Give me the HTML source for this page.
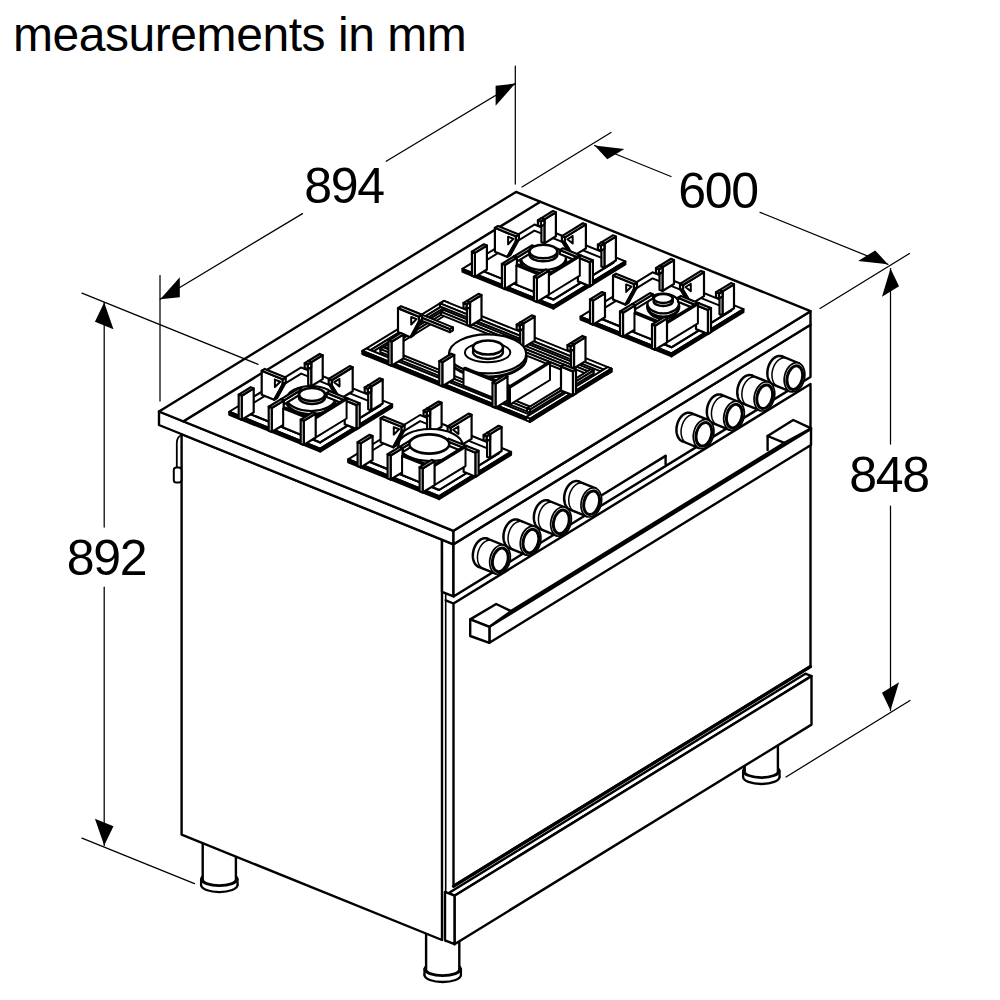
<!DOCTYPE html>
<html><head><meta charset="utf-8"><style>
html,body{margin:0;padding:0;background:#fff;width:1000px;height:1000px;overflow:hidden}
svg{position:absolute;left:0;top:0}
text{font-family:"Liberation Sans",sans-serif;fill:#000}
</style></head><body>
<svg width="1000" height="1000" viewBox="0 0 1000 1000">
<rect width="1000" height="1000" fill="#fff"/>
<g stroke="#000" stroke-linejoin="round" stroke-linecap="round" fill="none">
<ellipse cx="219.3" cy="885.04" rx="18.2" ry="7" fill="#fff" stroke-width="2.3"/>
<rect x="201.1" y="879.04" width="36.4" height="6" fill="#fff" stroke="none"/>
<line x1="201.1" y1="879.04" x2="201.1" y2="885.04" stroke-width="2.3"/>
<line x1="237.5" y1="879.04" x2="237.5" y2="885.04" stroke-width="2.3"/>
<ellipse cx="219.3" cy="879.04" rx="18.2" ry="7" fill="#fff" stroke-width="2.0"/>
<rect x="202.7" y="832.54" width="33.2" height="46.5" fill="#fff" stroke="none"/>
<line x1="202.7" y1="832.54" x2="202.7" y2="879.04" stroke-width="2.4"/>
<line x1="235.9" y1="832.54" x2="235.9" y2="879.04" stroke-width="2.4"/>
<path d="M202.7,879.04 A16.6,6.2 0 0 0 235.9,879.04" fill="none" stroke-width="1.8"/>
<ellipse cx="442.7" cy="975.01" rx="18.2" ry="7" fill="#fff" stroke-width="2.3"/>
<rect x="424.5" y="969.01" width="36.4" height="6" fill="#fff" stroke="none"/>
<line x1="424.5" y1="969.01" x2="424.5" y2="975.01" stroke-width="2.3"/>
<line x1="460.9" y1="969.01" x2="460.9" y2="975.01" stroke-width="2.3"/>
<ellipse cx="442.7" cy="969.01" rx="18.2" ry="7" fill="#fff" stroke-width="2.0"/>
<rect x="426.1" y="922.51" width="33.2" height="46.5" fill="#fff" stroke="none"/>
<line x1="426.1" y1="922.51" x2="426.1" y2="969.01" stroke-width="2.4"/>
<line x1="459.3" y1="922.51" x2="459.3" y2="969.01" stroke-width="2.4"/>
<path d="M426.1,969.01 A16.6,6.2 0 0 0 459.3,969.01" fill="none" stroke-width="1.8"/>
<ellipse cx="761.3" cy="776.98" rx="18.2" ry="7" fill="#fff" stroke-width="2.3"/>
<rect x="743.1" y="770.98" width="36.4" height="6" fill="#fff" stroke="none"/>
<line x1="743.1" y1="770.98" x2="743.1" y2="776.98" stroke-width="2.3"/>
<line x1="779.5" y1="770.98" x2="779.5" y2="776.98" stroke-width="2.3"/>
<ellipse cx="761.3" cy="770.98" rx="18.2" ry="7" fill="#fff" stroke-width="2.0"/>
<rect x="744.7" y="724.48" width="33.2" height="46.5" fill="#fff" stroke="none"/>
<line x1="744.7" y1="724.48" x2="744.7" y2="770.98" stroke-width="2.4"/>
<line x1="777.9" y1="724.48" x2="777.9" y2="770.98" stroke-width="2.4"/>
<path d="M744.7,770.98 A16.6,6.2 0 0 0 777.9,770.98" fill="none" stroke-width="1.8"/>
<polygon points="181.6,434.15 442,539.62 442,940.01 181.6,834.55" stroke-width="2.4" fill="#fff" />
<polygon points="442,539.62 453.5,544.27 453.5,596.47 442,591.82" stroke-width="2.4" fill="#fff" />
<line x1="445.7" y1="593.5" x2="445.7" y2="941.5" stroke-width="1.6"/>
<line x1="445.7" y1="600.3" x2="453.5" y2="603.5" stroke-width="2.4"/>
<polygon points="453.5,544.27 810.5,324.72 810.5,376.92 453.5,596.47" stroke-width="2.4" fill="#fff" />
<polygon points="453.5,603.47 810.5,383.92 810.5,666.12 453.5,885.67" stroke-width="2.4" fill="#fff" />
<line x1="453.5" y1="886.27" x2="810.5" y2="666.72" stroke-width="3.2"/>
<polygon points="448.4,893.21 805.4,673.65 811.5,676.12 454.5,895.68" stroke-width="2.4" fill="#fff" />
<polygon points="454.5,895.68 811.5,676.12 811.5,724.62 454.5,944.18" stroke-width="2.4" fill="#fff" />
<polygon points="445,891.83 454.5,895.68 454.5,944.18 445,940.33" stroke-width="2.4" fill="#fff" />
<path d="M181.6,435 Q176.8,437 176.8,443 L176.8,468" fill="none" stroke-width="1.8"/>
<rect x="173.8" y="467.5" width="7.6" height="15" rx="2.5" fill="#fff" stroke-width="2"/>
<polygon points="159,411.5 453.5,530.77 453.5,544.27 159,425" stroke-width="2.4" fill="#fff" />
<polygon points="453.5,530.77 810.5,311.22 810.5,324.72 453.5,544.27" stroke-width="2.4" fill="#fff" />
<polygon points="159,411.5 516,191.94 810.5,311.22 453.5,530.77" stroke-width="2.4" fill="#fff" />
<line x1="183.4" y1="421.38" x2="540.4" y2="201.83" stroke-width="2.4"/>
<polygon points="553.4,305.68 625.4,261.4 534.4,224.55 462.4,268.83" fill="#fff" stroke-width="2.0"/>
<polygon points="625.4,264.4 553.4,308.68 553.4,305.68 625.4,261.4" fill="#000" stroke-width="2.0"/>
<polygon points="553.4,308.68 462.4,271.83 462.4,268.83 553.4,305.68" fill="#000" stroke-width="2.0"/>
<polygon points="553.4,299.55 613.4,262.65 534.4,230.66 474.4,267.56" fill="#fff" stroke-width="2.0"/>
<polygon points="613.4,262.66 553.4,299.56 553.4,299.55 613.4,262.65" fill="#fff" stroke-width="2.0"/>
<polygon points="553.4,299.56 474.4,267.57 474.4,267.56 553.4,299.55" fill="#fff" stroke-width="2.0"/>
<polygon points="555.9,212.26 544.4,219.33 544.4,243.33 555.9,236.26" fill="#fff" stroke-width="2.2"/>
<polygon points="541.4,242.11 541.4,218.11 544.4,219.33 544.4,243.33" fill="#fff" stroke-width="2.2"/>
<polygon points="541.4,218.11 552.9,211.04 555.9,212.26 544.4,219.33" fill="#fff" stroke-width="2.2"/>
<polygon points="544.4,219.33 540.9,221.48 540.9,226.48 544.4,224.33" fill="#fff" stroke-width="2.2"/>
<polygon points="537.9,225.27 537.9,220.27 540.9,221.48 540.9,226.48" fill="#fff" stroke-width="2.2"/>
<polygon points="537.9,220.27 541.4,218.11 544.4,219.33 540.9,221.48" fill="#fff" stroke-width="2.2"/>
<polygon points="494.9,227.84 515.9,236.35 515.9,241.35 507.4,256.9 494.9,251.84" fill="#fff" stroke-width="2.2"/>
<polygon points="510.4,255.06 518.9,239.5 515.9,241.35 507.4,256.9" fill="#fff" stroke-width="2.2"/>
<polygon points="518.9,239.5 518.9,234.5 515.9,236.35 515.9,241.35" fill="#fff" stroke-width="2.2"/>
<polygon points="518.9,234.5 497.9,226 494.9,227.84 515.9,236.35" fill="#fff" stroke-width="2.2"/>
<polyline points="508.1,236.69 513.4,238.83 508.1,244.19 508.1,236.69" fill="none" stroke-width="2.0"/>
<polygon points="585.9,224.41 564.9,237.32 564.9,242.32 573.4,256.09 585.9,248.41" fill="#fff" stroke-width="2.2"/>
<polygon points="570.4,254.88 561.9,241.11 564.9,242.32 573.4,256.09" fill="#fff" stroke-width="2.2"/>
<polygon points="561.9,241.11 561.9,236.11 564.9,237.32 564.9,242.32" fill="#fff" stroke-width="2.2"/>
<polygon points="561.9,236.11 582.9,223.19 585.9,224.41 564.9,237.32" fill="#fff" stroke-width="2.2"/>
<polyline points="572.7,236.02 567.4,239.28 572.7,243.52 572.7,236.02" fill="none" stroke-width="2.0"/>
<polygon points="474.9,252.89 486.9,245.51 486.9,269.51 474.9,276.89" fill="#fff" stroke-width="2.2"/>
<polygon points="483.9,244.3 471.9,251.68 474.9,252.89 486.9,245.51" fill="#fff" stroke-width="2.2"/>
<polygon points="471.9,251.68 471.9,275.68 474.9,276.89 474.9,252.89" fill="#fff" stroke-width="2.2"/>
<ellipse cx="543.4" cy="265" rx="20.25" ry="10.12" fill="#fff" stroke-width="1.6"/>
<ellipse cx="543.4" cy="261.5" rx="22.5" ry="11.9" fill="#fff" stroke-width="3.0"/>
<ellipse cx="543.4" cy="258" rx="22.5" ry="11.9" fill="#fff" stroke-width="2.2"/>
<polygon points="615.9,236.56 604.4,243.63 604.4,267.63 615.9,260.56" fill="#fff" stroke-width="2.2"/>
<polygon points="601.4,266.41 601.4,242.41 604.4,243.63 604.4,267.63" fill="#fff" stroke-width="2.2"/>
<polygon points="601.4,242.41 612.9,235.34 615.9,236.56 604.4,243.63" fill="#fff" stroke-width="2.2"/>
<polygon points="516.9,257.66 534.9,246.59 534.9,250.59 516.9,261.66" fill="#fff" stroke-width="2.2"/>
<polygon points="531.9,245.38 513.9,256.45 516.9,257.66 534.9,246.59" fill="#fff" stroke-width="2.2"/>
<polygon points="513.9,256.45 513.9,260.45 516.9,261.66 516.9,257.66" fill="#fff" stroke-width="2.2"/>
<polygon points="604.4,243.63 600.9,245.78 600.9,250.78 604.4,248.63" fill="#fff" stroke-width="2.2"/>
<polygon points="597.9,249.57 597.9,244.57 600.9,245.78 600.9,250.78" fill="#fff" stroke-width="2.2"/>
<polygon points="597.9,244.57 601.4,242.41 604.4,243.63 600.9,245.78" fill="#fff" stroke-width="2.2"/>
<polygon points="504.9,265.04 516.9,257.66 516.9,281.66 504.9,289.04" fill="#fff" stroke-width="2.2"/>
<polygon points="513.9,256.45 501.9,263.83 504.9,265.04 516.9,257.66" fill="#fff" stroke-width="2.2"/>
<polygon points="501.9,263.83 501.9,287.83 504.9,289.04 504.9,265.04" fill="#fff" stroke-width="2.2"/>
<polygon points="577.9,257.38 559.9,250.09 559.9,254.09 577.9,261.38" fill="#fff" stroke-width="2.2"/>
<polygon points="562.9,248.24 580.9,255.53 577.9,257.38 559.9,250.09" fill="#fff" stroke-width="2.2"/>
<polygon points="580.9,255.53 580.9,259.53 577.9,261.38 577.9,257.38" fill="#fff" stroke-width="2.2"/>
<polygon points="589.9,262.24 577.9,257.38 577.9,281.38 589.9,286.24" fill="#fff" stroke-width="2.2"/>
<polygon points="580.9,255.53 592.9,260.39 589.9,262.24 577.9,257.38" fill="#fff" stroke-width="2.2"/>
<polygon points="592.9,260.39 592.9,284.39 589.9,286.24 589.9,262.24" fill="#fff" stroke-width="2.2"/>
<polygon points="545.8,277.49 579.8,256.58 578.1,255.89 544.1,276.8" fill="#fff" stroke-width="2.0"/>
<polygon points="579.8,275.58 545.8,296.49 545.8,277.49 579.8,256.58" fill="#fff" stroke-width="2.0"/>
<polygon points="545.8,296.49 544.1,295.8 544.1,276.8 545.8,277.49" fill="#fff" stroke-width="2.0"/>
<polygon points="545.8,277.49 547.5,276.44 518.1,264.53 516.4,265.58" fill="#fff" stroke-width="2.0"/>
<polygon points="547.5,295.44 545.8,296.49 545.8,277.49 547.5,276.44" fill="#fff" stroke-width="2.0"/>
<polygon points="545.8,296.49 516.4,284.58 516.4,265.58 545.8,277.49" fill="#fff" stroke-width="2.0"/>
<polygon points="536.9,278 548.9,270.62 548.9,294.62 536.9,302" fill="#fff" stroke-width="2.2"/>
<polygon points="545.9,269.41 533.9,276.79 536.9,278 548.9,270.62" fill="#fff" stroke-width="2.2"/>
<polygon points="533.9,276.79 533.9,300.79 536.9,302 536.9,278" fill="#fff" stroke-width="2.2"/>
<ellipse cx="543.4" cy="254.5" rx="14" ry="6.8" fill="#fff" stroke-width="2.4"/>
<rect x="529.4" y="251.5" width="28" height="3" fill="#fff" stroke="none"/>
<line x1="529.4" y1="251.5" x2="529.4" y2="254.5" stroke-width="2"/>
<line x1="557.4" y1="251.5" x2="557.4" y2="254.5" stroke-width="2"/>
<ellipse cx="543.4" cy="251.5" rx="14" ry="6.8" fill="#fff" stroke-width="2.6"/>
<polygon points="671.5,353.41 743.5,309.13 652.5,272.28 580.5,316.56" fill="#fff" stroke-width="2.0"/>
<polygon points="743.5,312.13 671.5,356.41 671.5,353.41 743.5,309.13" fill="#000" stroke-width="2.0"/>
<polygon points="671.5,356.41 580.5,319.56 580.5,316.56 671.5,353.41" fill="#000" stroke-width="2.0"/>
<polygon points="671.5,347.28 731.5,310.38 652.5,278.39 592.5,315.29" fill="#fff" stroke-width="2.0"/>
<polygon points="731.5,310.39 671.5,347.29 671.5,347.28 731.5,310.38" fill="#fff" stroke-width="2.0"/>
<polygon points="671.5,347.29 592.5,315.3 592.5,315.29 671.5,347.28" fill="#fff" stroke-width="2.0"/>
<polygon points="674,259.99 662.5,267.06 662.5,291.06 674,283.99" fill="#fff" stroke-width="2.2"/>
<polygon points="659.5,289.84 659.5,265.84 662.5,267.06 662.5,291.06" fill="#fff" stroke-width="2.2"/>
<polygon points="659.5,265.84 671,258.77 674,259.99 662.5,267.06" fill="#fff" stroke-width="2.2"/>
<polygon points="662.5,267.06 659,269.21 659,274.21 662.5,272.06" fill="#fff" stroke-width="2.2"/>
<polygon points="656,273 656,268 659,269.21 659,274.21" fill="#fff" stroke-width="2.2"/>
<polygon points="656,268 659.5,265.84 662.5,267.06 659,269.21" fill="#fff" stroke-width="2.2"/>
<polygon points="613,275.57 634,284.08 634,289.08 625.5,304.63 613,299.57" fill="#fff" stroke-width="2.2"/>
<polygon points="628.5,302.79 637,287.23 634,289.08 625.5,304.63" fill="#fff" stroke-width="2.2"/>
<polygon points="637,287.23 637,282.23 634,284.08 634,289.08" fill="#fff" stroke-width="2.2"/>
<polygon points="637,282.23 616,273.73 613,275.57 634,284.08" fill="#fff" stroke-width="2.2"/>
<polyline points="626.2,284.42 631.5,286.56 626.2,291.92 626.2,284.42" fill="none" stroke-width="2.0"/>
<polygon points="704,272.13 683,285.05 683,290.05 691.5,303.82 704,296.13" fill="#fff" stroke-width="2.2"/>
<polygon points="688.5,302.61 680,288.84 683,290.05 691.5,303.82" fill="#fff" stroke-width="2.2"/>
<polygon points="680,288.84 680,283.84 683,285.05 683,290.05" fill="#fff" stroke-width="2.2"/>
<polygon points="680,283.84 701,270.92 704,272.13 683,285.05" fill="#fff" stroke-width="2.2"/>
<polyline points="690.8,283.75 685.5,287.01 690.8,291.25 690.8,283.75" fill="none" stroke-width="2.0"/>
<polygon points="593,300.62 605,293.24 605,317.24 593,324.62" fill="#fff" stroke-width="2.2"/>
<polygon points="602,292.02 590,299.4 593,300.62 605,293.24" fill="#fff" stroke-width="2.2"/>
<polygon points="590,299.4 590,323.4 593,324.62 593,300.62" fill="#fff" stroke-width="2.2"/>
<ellipse cx="663.2" cy="310.5" rx="14.13" ry="8.42" fill="#fff" stroke-width="1.6"/>
<ellipse cx="663.2" cy="307" rx="15.7" ry="9.9" fill="#fff" stroke-width="3.0"/>
<ellipse cx="663.2" cy="303.5" rx="15.7" ry="9.9" fill="#fff" stroke-width="2.2"/>
<polygon points="734,284.29 722.5,291.36 722.5,315.36 734,308.29" fill="#fff" stroke-width="2.2"/>
<polygon points="719.5,314.14 719.5,290.14 722.5,291.36 722.5,315.36" fill="#fff" stroke-width="2.2"/>
<polygon points="719.5,290.14 731,283.07 734,284.29 722.5,291.36" fill="#fff" stroke-width="2.2"/>
<polygon points="635,305.39 653,294.32 653,298.32 635,309.39" fill="#fff" stroke-width="2.2"/>
<polygon points="650,293.11 632,304.18 635,305.39 653,294.32" fill="#fff" stroke-width="2.2"/>
<polygon points="632,304.18 632,308.18 635,309.39 635,305.39" fill="#fff" stroke-width="2.2"/>
<polygon points="722.5,291.36 719,293.51 719,298.51 722.5,296.36" fill="#fff" stroke-width="2.2"/>
<polygon points="716,297.3 716,292.3 719,293.51 719,298.51" fill="#fff" stroke-width="2.2"/>
<polygon points="716,292.3 719.5,290.14 722.5,291.36 719,293.51" fill="#fff" stroke-width="2.2"/>
<polygon points="623,312.77 635,305.39 635,329.39 623,336.77" fill="#fff" stroke-width="2.2"/>
<polygon points="632,304.18 620,311.56 623,312.77 635,305.39" fill="#fff" stroke-width="2.2"/>
<polygon points="620,311.56 620,335.56 623,336.77 623,312.77" fill="#fff" stroke-width="2.2"/>
<polygon points="696,305.11 678,297.81 678,301.81 696,309.11" fill="#fff" stroke-width="2.2"/>
<polygon points="681,295.97 699,303.26 696,305.11 678,297.81" fill="#fff" stroke-width="2.2"/>
<polygon points="699,303.26 699,307.26 696,309.11 696,305.11" fill="#fff" stroke-width="2.2"/>
<polygon points="708,309.97 696,305.11 696,329.11 708,333.97" fill="#fff" stroke-width="2.2"/>
<polygon points="699,303.26 711,308.12 708,309.97 696,305.11" fill="#fff" stroke-width="2.2"/>
<polygon points="711,308.12 711,332.12 708,333.97 708,309.97" fill="#fff" stroke-width="2.2"/>
<polygon points="663.9,325.21 697.9,304.3 696.2,303.62 662.2,324.53" fill="#fff" stroke-width="2.0"/>
<polygon points="697.9,323.3 663.9,344.21 663.9,325.21 697.9,304.3" fill="#fff" stroke-width="2.0"/>
<polygon points="663.9,344.21 662.2,343.53 662.2,324.53 663.9,325.21" fill="#fff" stroke-width="2.0"/>
<polygon points="663.9,325.21 665.6,324.17 636.2,312.26 634.5,313.31" fill="#fff" stroke-width="2.0"/>
<polygon points="665.6,343.17 663.9,344.21 663.9,325.21 665.6,324.17" fill="#fff" stroke-width="2.0"/>
<polygon points="663.9,344.21 634.5,332.31 634.5,313.31 663.9,325.21" fill="#fff" stroke-width="2.0"/>
<polygon points="655,325.73 667,318.35 667,342.35 655,349.73" fill="#fff" stroke-width="2.2"/>
<polygon points="664,317.13 652,324.51 655,325.73 667,318.35" fill="#fff" stroke-width="2.2"/>
<polygon points="652,324.51 652,348.51 655,349.73 655,325.73" fill="#fff" stroke-width="2.2"/>
<ellipse cx="663.2" cy="301.5" rx="9.5" ry="4.5" fill="#fff" stroke-width="2.4"/>
<rect x="653.7" y="298.5" width="19" height="3" fill="#fff" stroke="none"/>
<line x1="653.7" y1="298.5" x2="653.7" y2="301.5" stroke-width="2"/>
<line x1="672.7" y1="298.5" x2="672.7" y2="301.5" stroke-width="2"/>
<ellipse cx="663.2" cy="298.5" rx="9.5" ry="4.5" fill="#fff" stroke-width="2.6"/>
<polygon points="366.5,352.59 448,302.47 444,300.85 362.5,350.97" fill="#fff" stroke-width="2.0"/>
<polygon points="448,305.47 366.5,355.59 366.5,352.59 448,302.47" fill="#fff" stroke-width="2.0"/>
<polygon points="366.5,355.59 362.5,353.97 362.5,350.97 366.5,352.59" fill="#fff" stroke-width="2.0"/>
<polygon points="607.5,371.15 611.5,368.69 444,300.85 440,303.31" fill="#fff" stroke-width="2.0"/>
<polygon points="611.5,371.69 607.5,374.15 607.5,371.15 611.5,368.69" fill="#fff" stroke-width="2.0"/>
<polygon points="607.5,374.15 440,306.31 440,303.31 607.5,371.15" fill="#fff" stroke-width="2.0"/>
<polygon points="383.5,350.3 447,311.25 444,310.03 380.5,349.08" fill="#fff" stroke-width="2.0"/>
<polygon points="447,314.25 383.5,353.3 383.5,350.3 447,311.25" fill="#fff" stroke-width="2.0"/>
<polygon points="383.5,353.3 380.5,352.08 380.5,349.08 383.5,350.3" fill="#fff" stroke-width="2.0"/>
<polygon points="530,418.81 534,416.35 366.5,348.51 362.5,350.97" fill="#fff" stroke-width="2.0"/>
<polygon points="534,419.35 530,421.81 530,418.81 534,416.35" fill="#fff" stroke-width="2.0"/>
<polygon points="530,421.81 362.5,353.97 362.5,350.97 530,418.81" fill="#000" stroke-width="2.0"/>
<polygon points="590.5,372.42 593.5,370.58 444,310.03 441,311.88" fill="#fff" stroke-width="2.0"/>
<polygon points="593.5,373.58 590.5,375.42 590.5,372.42 593.5,370.58" fill="#fff" stroke-width="2.0"/>
<polygon points="590.5,375.42 441,314.88 441,311.88 590.5,372.42" fill="#fff" stroke-width="2.0"/>
<polygon points="530,418.81 611.5,368.69 607.5,367.07 526,417.19" fill="#fff" stroke-width="2.0"/>
<polygon points="611.5,371.69 530,421.81 530,418.81 611.5,368.69" fill="#000" stroke-width="2.0"/>
<polygon points="530,421.81 526,420.19 526,417.19 530,418.81" fill="#fff" stroke-width="2.0"/>
<polygon points="530,409.63 533,407.79 383.5,347.24 380.5,349.08" fill="#fff" stroke-width="2.0"/>
<polygon points="533,410.79 530,412.63 530,409.63 533,407.79" fill="#fff" stroke-width="2.0"/>
<polygon points="530,412.63 380.5,352.08 380.5,349.08 530,409.63" fill="#fff" stroke-width="2.0"/>
<polygon points="530,409.63 593.5,370.58 590.5,369.36 527,408.42" fill="#fff" stroke-width="2.0"/>
<polygon points="593.5,373.58 530,412.63 530,409.63 593.5,370.58" fill="#fff" stroke-width="2.0"/>
<polygon points="530,412.63 527,411.42 527,408.42 530,409.63" fill="#fff" stroke-width="2.0"/>
<polygon points="450,329.2 453,327.36 405,307.92 402,309.76" fill="#fff" stroke-width="2.0"/>
<polygon points="453,330.36 450,332.2 450,329.2 453,327.36" fill="#fff" stroke-width="2.0"/>
<polygon points="450,332.2 402,312.76 402,309.76 450,329.2" fill="#fff" stroke-width="2.0"/>
<polygon points="569,369.75 572,367.9 524,348.46 521,350.31" fill="#fff" stroke-width="2.0"/>
<polygon points="572,370.9 569,372.75 569,369.75 572,367.9" fill="#fff" stroke-width="2.0"/>
<polygon points="569,372.75 521,353.31 521,350.31 569,369.75" fill="#fff" stroke-width="2.0"/>
<polygon points="481.5,295.04 470,302.11 470,326.11 481.5,319.04" fill="#fff" stroke-width="2.2"/>
<polygon points="467,324.9 467,300.9 470,302.11 470,326.11" fill="#fff" stroke-width="2.2"/>
<polygon points="467,300.9 478.5,293.82 481.5,295.04 470,302.11" fill="#fff" stroke-width="2.2"/>
<polygon points="398,308.14 419,316.65 419,321.65 410.5,337.2 398,332.14" fill="#fff" stroke-width="2.2"/>
<polygon points="413.5,335.36 422,319.8 419,321.65 410.5,337.2" fill="#fff" stroke-width="2.2"/>
<polygon points="422,319.8 422,314.8 419,316.65 419,321.65" fill="#fff" stroke-width="2.2"/>
<polygon points="422,314.8 401,306.3 398,308.14 419,316.65" fill="#fff" stroke-width="2.2"/>
<polyline points="411.2,316.99 416.5,319.13 411.2,324.49 411.2,316.99" fill="none" stroke-width="2.0"/>
<polygon points="470,302.11 466.5,304.26 466.5,309.26 470,307.11" fill="#fff" stroke-width="2.2"/>
<polygon points="463.5,308.05 463.5,303.05 466.5,304.26 466.5,309.26" fill="#fff" stroke-width="2.2"/>
<polygon points="463.5,303.05 467,300.9 470,302.11 466.5,304.26" fill="#fff" stroke-width="2.2"/>
<polygon points="534.7,316.58 523.2,323.66 523.2,347.66 534.7,340.58" fill="#fff" stroke-width="2.2"/>
<polygon points="520.2,346.44 520.2,322.44 523.2,323.66 523.2,347.66" fill="#fff" stroke-width="2.2"/>
<polygon points="520.2,322.44 531.7,315.37 534.7,316.58 523.2,323.66" fill="#fff" stroke-width="2.2"/>
<polygon points="391.5,341.72 403.5,334.34 403.5,358.34 391.5,365.72" fill="#fff" stroke-width="2.2"/>
<polygon points="400.5,333.12 388.5,340.5 391.5,341.72 403.5,334.34" fill="#fff" stroke-width="2.2"/>
<polygon points="388.5,340.5 388.5,364.5 391.5,365.72 391.5,341.72" fill="#fff" stroke-width="2.2"/>
<polygon points="523.2,323.66 519.7,325.81 519.7,330.81 523.2,328.66" fill="#fff" stroke-width="2.2"/>
<polygon points="516.7,329.59 516.7,324.59 519.7,325.81 519.7,330.81" fill="#fff" stroke-width="2.2"/>
<polygon points="516.7,324.59 520.2,322.44 523.2,323.66 519.7,325.81" fill="#fff" stroke-width="2.2"/>
<ellipse cx="487.6" cy="360.9" rx="34.74" ry="16.57" fill="#fff" stroke-width="1.6"/>
<ellipse cx="487.6" cy="357.4" rx="38.6" ry="19.5" fill="#fff" stroke-width="3.0"/>
<ellipse cx="487.6" cy="353.9" rx="38.6" ry="19.5" fill="#fff" stroke-width="2.2"/>
<ellipse cx="487.6" cy="352.5" rx="22.7" ry="9.75" fill="#fff" stroke-width="2.0"/>
<polygon points="585.5,337.16 574,344.23 574,368.23 585.5,361.16" fill="#fff" stroke-width="2.2"/>
<polygon points="571,367.02 571,343.02 574,344.23 574,368.23" fill="#fff" stroke-width="2.2"/>
<polygon points="571,343.02 582.5,335.94 585.5,337.16 574,344.23" fill="#fff" stroke-width="2.2"/>
<polygon points="442.3,362.29 454.3,354.91 454.3,378.91 442.3,386.29" fill="#fff" stroke-width="2.2"/>
<polygon points="451.3,353.7 439.3,361.08 442.3,362.29 454.3,354.91" fill="#fff" stroke-width="2.2"/>
<polygon points="439.3,361.08 439.3,385.08 442.3,386.29 442.3,362.29" fill="#fff" stroke-width="2.2"/>
<polygon points="574,344.23 570.5,346.38 570.5,351.38 574,349.23" fill="#fff" stroke-width="2.2"/>
<polygon points="567.5,350.17 567.5,345.17 570.5,346.38 570.5,351.38" fill="#fff" stroke-width="2.2"/>
<polygon points="567.5,345.17 571,343.02 574,344.23 570.5,346.38" fill="#fff" stroke-width="2.2"/>
<polygon points="510,387.59 511.7,386.55 465.2,367.71 463.5,368.76" fill="#fff" stroke-width="2.0"/>
<polygon points="511.7,403.55 510,404.59 510,387.59 511.7,386.55" fill="#fff" stroke-width="2.0"/>
<polygon points="510,404.59 463.5,385.76 463.5,368.76 510,387.59" fill="#fff" stroke-width="2.0"/>
<polygon points="510,387.59 550,362.99 548.3,362.3 508.3,386.9" fill="#fff" stroke-width="2.0"/>
<polygon points="550,379.99 510,404.59 510,387.59 550,362.99" fill="#fff" stroke-width="2.0"/>
<polygon points="510,404.59 508.3,403.9 508.3,386.9 510,387.59" fill="#fff" stroke-width="2.0"/>
<polygon points="573,371.37 561,366.51 561,390.51 573,395.37" fill="#fff" stroke-width="2.2"/>
<polygon points="564,364.66 576,369.52 573,371.37 561,366.51" fill="#fff" stroke-width="2.2"/>
<polygon points="576,369.52 576,393.52 573,395.37 573,371.37" fill="#fff" stroke-width="2.2"/>
<polygon points="495.5,383.84 507.5,376.46 507.5,400.46 495.5,407.84" fill="#fff" stroke-width="2.2"/>
<polygon points="504.5,375.24 492.5,382.62 495.5,383.84 507.5,376.46" fill="#fff" stroke-width="2.2"/>
<polygon points="492.5,382.62 492.5,406.62 495.5,407.84 495.5,383.84" fill="#fff" stroke-width="2.2"/>
<ellipse cx="488" cy="352" rx="15" ry="7" fill="#fff" stroke-width="2.4"/>
<rect x="473" y="347.5" width="30" height="4.5" fill="#fff" stroke="none"/>
<line x1="473" y1="347.5" x2="473" y2="352" stroke-width="2"/>
<line x1="503" y1="347.5" x2="503" y2="352" stroke-width="2"/>
<ellipse cx="488" cy="347.5" rx="15" ry="7" fill="#fff" stroke-width="2.6"/>
<polygon points="320.2,448.59 392.2,404.31 301.2,367.46 229.2,411.74" fill="#fff" stroke-width="2.0"/>
<polygon points="392.2,407.31 320.2,451.59 320.2,448.59 392.2,404.31" fill="#000" stroke-width="2.0"/>
<polygon points="320.2,451.59 229.2,414.74 229.2,411.74 320.2,448.59" fill="#000" stroke-width="2.0"/>
<polygon points="320.2,442.46 380.2,405.56 301.2,373.57 241.2,410.47" fill="#fff" stroke-width="2.0"/>
<polygon points="380.2,405.57 320.2,442.47 320.2,442.46 380.2,405.56" fill="#fff" stroke-width="2.0"/>
<polygon points="320.2,442.47 241.2,410.48 241.2,410.47 320.2,442.46" fill="#fff" stroke-width="2.0"/>
<polygon points="322.7,355.16 311.2,362.24 311.2,386.24 322.7,379.16" fill="#fff" stroke-width="2.2"/>
<polygon points="308.2,385.02 308.2,361.02 311.2,362.24 311.2,386.24" fill="#fff" stroke-width="2.2"/>
<polygon points="308.2,361.02 319.7,353.95 322.7,355.16 311.2,362.24" fill="#fff" stroke-width="2.2"/>
<polygon points="311.2,362.24 307.7,364.39 307.7,369.39 311.2,367.24" fill="#fff" stroke-width="2.2"/>
<polygon points="304.7,368.17 304.7,363.17 307.7,364.39 307.7,369.39" fill="#fff" stroke-width="2.2"/>
<polygon points="304.7,363.17 308.2,361.02 311.2,362.24 307.7,364.39" fill="#fff" stroke-width="2.2"/>
<polygon points="261.7,370.75 282.7,379.25 282.7,384.25 274.2,399.81 261.7,394.75" fill="#fff" stroke-width="2.2"/>
<polygon points="277.2,397.97 285.7,382.41 282.7,384.25 274.2,399.81" fill="#fff" stroke-width="2.2"/>
<polygon points="285.7,382.41 285.7,377.41 282.7,379.25 282.7,384.25" fill="#fff" stroke-width="2.2"/>
<polygon points="285.7,377.41 264.7,368.9 261.7,370.75 282.7,379.25" fill="#fff" stroke-width="2.2"/>
<polyline points="274.9,379.6 280.2,381.74 274.9,387.1 274.9,379.6" fill="none" stroke-width="2.0"/>
<polygon points="352.7,367.31 331.7,380.23 331.7,385.23 340.2,399 352.7,391.31" fill="#fff" stroke-width="2.2"/>
<polygon points="337.2,397.79 328.7,384.01 331.7,385.23 340.2,399" fill="#fff" stroke-width="2.2"/>
<polygon points="328.7,384.01 328.7,379.01 331.7,380.23 331.7,385.23" fill="#fff" stroke-width="2.2"/>
<polygon points="328.7,379.01 349.7,366.1 352.7,367.31 331.7,380.23" fill="#fff" stroke-width="2.2"/>
<polyline points="339.5,378.93 334.2,382.19 339.5,386.43 339.5,378.93" fill="none" stroke-width="2.0"/>
<polygon points="241.7,395.8 253.7,388.42 253.7,412.42 241.7,419.8" fill="#fff" stroke-width="2.2"/>
<polygon points="250.7,387.2 238.7,394.58 241.7,395.8 253.7,388.42" fill="#fff" stroke-width="2.2"/>
<polygon points="238.7,394.58 238.7,418.58 241.7,419.8 241.7,395.8" fill="#fff" stroke-width="2.2"/>
<ellipse cx="311" cy="405.5" rx="21.6" ry="10.62" fill="#fff" stroke-width="1.6"/>
<ellipse cx="311" cy="402" rx="24" ry="12.5" fill="#fff" stroke-width="3.0"/>
<ellipse cx="311" cy="398.5" rx="24" ry="12.5" fill="#fff" stroke-width="2.2"/>
<polygon points="382.7,379.46 371.2,386.54 371.2,410.54 382.7,403.46" fill="#fff" stroke-width="2.2"/>
<polygon points="368.2,409.32 368.2,385.32 371.2,386.54 371.2,410.54" fill="#fff" stroke-width="2.2"/>
<polygon points="368.2,385.32 379.7,378.25 382.7,379.46 371.2,386.54" fill="#fff" stroke-width="2.2"/>
<polygon points="283.7,400.57 301.7,389.5 301.7,393.5 283.7,404.57" fill="#fff" stroke-width="2.2"/>
<polygon points="298.7,388.28 280.7,399.35 283.7,400.57 301.7,389.5" fill="#fff" stroke-width="2.2"/>
<polygon points="280.7,399.35 280.7,403.35 283.7,404.57 283.7,400.57" fill="#fff" stroke-width="2.2"/>
<polygon points="371.2,386.54 367.7,388.69 367.7,393.69 371.2,391.54" fill="#fff" stroke-width="2.2"/>
<polygon points="364.7,392.47 364.7,387.47 367.7,388.69 367.7,393.69" fill="#fff" stroke-width="2.2"/>
<polygon points="364.7,387.47 368.2,385.32 371.2,386.54 367.7,388.69" fill="#fff" stroke-width="2.2"/>
<polygon points="271.7,407.95 283.7,400.57 283.7,424.57 271.7,431.95" fill="#fff" stroke-width="2.2"/>
<polygon points="280.7,399.35 268.7,406.73 271.7,407.95 283.7,400.57" fill="#fff" stroke-width="2.2"/>
<polygon points="268.7,406.73 268.7,430.73 271.7,431.95 271.7,407.95" fill="#fff" stroke-width="2.2"/>
<polygon points="344.7,400.28 326.7,392.99 326.7,396.99 344.7,404.28" fill="#fff" stroke-width="2.2"/>
<polygon points="329.7,391.15 347.7,398.44 344.7,400.28 326.7,392.99" fill="#fff" stroke-width="2.2"/>
<polygon points="347.7,398.44 347.7,402.44 344.7,404.28 344.7,400.28" fill="#fff" stroke-width="2.2"/>
<polygon points="356.7,405.14 344.7,400.28 344.7,424.28 356.7,429.14" fill="#fff" stroke-width="2.2"/>
<polygon points="347.7,398.44 359.7,403.3 356.7,405.14 344.7,400.28" fill="#fff" stroke-width="2.2"/>
<polygon points="359.7,403.3 359.7,427.3 356.7,429.14 356.7,405.14" fill="#fff" stroke-width="2.2"/>
<polygon points="312.6,420.39 346.6,399.48 344.9,398.8 310.9,419.71" fill="#fff" stroke-width="2.0"/>
<polygon points="346.6,418.48 312.6,439.39 312.6,420.39 346.6,399.48" fill="#fff" stroke-width="2.0"/>
<polygon points="312.6,439.39 310.9,438.71 310.9,419.71 312.6,420.39" fill="#fff" stroke-width="2.0"/>
<polygon points="312.6,420.39 314.3,419.35 284.9,407.44 283.2,408.49" fill="#fff" stroke-width="2.0"/>
<polygon points="314.3,438.35 312.6,439.39 312.6,420.39 314.3,419.35" fill="#fff" stroke-width="2.0"/>
<polygon points="312.6,439.39 283.2,427.49 283.2,408.49 312.6,420.39" fill="#fff" stroke-width="2.0"/>
<polygon points="303.7,420.91 315.7,413.53 315.7,437.53 303.7,444.91" fill="#fff" stroke-width="2.2"/>
<polygon points="312.7,412.31 300.7,419.69 303.7,420.91 315.7,413.53" fill="#fff" stroke-width="2.2"/>
<polygon points="300.7,419.69 300.7,443.69 303.7,444.91 303.7,420.91" fill="#fff" stroke-width="2.2"/>
<ellipse cx="312" cy="397.5" rx="13" ry="6.5" fill="#fff" stroke-width="2.4"/>
<rect x="299" y="394.5" width="26" height="3" fill="#fff" stroke="none"/>
<line x1="299" y1="394.5" x2="299" y2="397.5" stroke-width="2"/>
<line x1="325" y1="394.5" x2="325" y2="397.5" stroke-width="2"/>
<ellipse cx="312" cy="394.5" rx="13" ry="6.5" fill="#fff" stroke-width="2.6"/>
<polygon points="439.1,496.13 511.1,451.85 420.1,415 348.1,459.28" fill="#fff" stroke-width="2.0"/>
<polygon points="511.1,454.85 439.1,499.13 439.1,496.13 511.1,451.85" fill="#000" stroke-width="2.0"/>
<polygon points="439.1,499.13 348.1,462.28 348.1,459.28 439.1,496.13" fill="#000" stroke-width="2.0"/>
<polygon points="439.1,490 499.1,453.1 420.1,421.11 360.1,458.01" fill="#fff" stroke-width="2.0"/>
<polygon points="499.1,453.11 439.1,490.01 439.1,490 499.1,453.1" fill="#fff" stroke-width="2.0"/>
<polygon points="439.1,490.01 360.1,458.02 360.1,458.01 439.1,490" fill="#fff" stroke-width="2.0"/>
<polygon points="441.6,402.71 430.1,409.78 430.1,433.78 441.6,426.71" fill="#fff" stroke-width="2.2"/>
<polygon points="427.1,432.56 427.1,408.56 430.1,409.78 430.1,433.78" fill="#fff" stroke-width="2.2"/>
<polygon points="427.1,408.56 438.6,401.49 441.6,402.71 430.1,409.78" fill="#fff" stroke-width="2.2"/>
<polygon points="430.1,409.78 426.6,411.93 426.6,416.93 430.1,414.78" fill="#fff" stroke-width="2.2"/>
<polygon points="423.6,415.72 423.6,410.72 426.6,411.93 426.6,416.93" fill="#fff" stroke-width="2.2"/>
<polygon points="423.6,410.72 427.1,408.56 430.1,409.78 426.6,411.93" fill="#fff" stroke-width="2.2"/>
<polygon points="380.6,418.29 401.6,426.8 401.6,431.8 393.1,447.35 380.6,442.29" fill="#fff" stroke-width="2.2"/>
<polygon points="396.1,445.51 404.6,429.95 401.6,431.8 393.1,447.35" fill="#fff" stroke-width="2.2"/>
<polygon points="404.6,429.95 404.6,424.95 401.6,426.8 401.6,431.8" fill="#fff" stroke-width="2.2"/>
<polygon points="404.6,424.95 383.6,416.45 380.6,418.29 401.6,426.8" fill="#fff" stroke-width="2.2"/>
<polyline points="393.8,427.14 399.1,429.28 393.8,434.64 393.8,427.14" fill="none" stroke-width="2.0"/>
<polygon points="471.6,414.86 450.6,427.77 450.6,432.77 459.1,446.54 471.6,438.86" fill="#fff" stroke-width="2.2"/>
<polygon points="456.1,445.33 447.6,431.56 450.6,432.77 459.1,446.54" fill="#fff" stroke-width="2.2"/>
<polygon points="447.6,431.56 447.6,426.56 450.6,427.77 450.6,432.77" fill="#fff" stroke-width="2.2"/>
<polygon points="447.6,426.56 468.6,413.64 471.6,414.86 450.6,427.77" fill="#fff" stroke-width="2.2"/>
<polyline points="458.4,426.48 453.1,429.73 458.4,433.98 458.4,426.48" fill="none" stroke-width="2.0"/>
<polygon points="360.6,443.34 372.6,435.96 372.6,459.96 360.6,467.34" fill="#fff" stroke-width="2.2"/>
<polygon points="369.6,434.75 357.6,442.13 360.6,443.34 372.6,435.96" fill="#fff" stroke-width="2.2"/>
<polygon points="357.6,442.13 357.6,466.13 360.6,467.34 360.6,443.34" fill="#fff" stroke-width="2.2"/>
<ellipse cx="430.5" cy="452" rx="28.8" ry="13.6" fill="#fff" stroke-width="1.6"/>
<ellipse cx="430.5" cy="448.5" rx="32" ry="16" fill="#fff" stroke-width="3.0"/>
<ellipse cx="430.5" cy="445" rx="32" ry="16" fill="#fff" stroke-width="2.2"/>
<polygon points="501.6,427.01 490.1,434.08 490.1,458.08 501.6,451.01" fill="#fff" stroke-width="2.2"/>
<polygon points="487.1,456.86 487.1,432.86 490.1,434.08 490.1,458.08" fill="#fff" stroke-width="2.2"/>
<polygon points="487.1,432.86 498.6,425.79 501.6,427.01 490.1,434.08" fill="#fff" stroke-width="2.2"/>
<polygon points="402.6,448.11 420.6,437.04 420.6,441.04 402.6,452.11" fill="#fff" stroke-width="2.2"/>
<polygon points="417.6,435.83 399.6,446.9 402.6,448.11 420.6,437.04" fill="#fff" stroke-width="2.2"/>
<polygon points="399.6,446.9 399.6,450.9 402.6,452.11 402.6,448.11" fill="#fff" stroke-width="2.2"/>
<polygon points="490.1,434.08 486.6,436.23 486.6,441.23 490.1,439.08" fill="#fff" stroke-width="2.2"/>
<polygon points="483.6,440.02 483.6,435.02 486.6,436.23 486.6,441.23" fill="#fff" stroke-width="2.2"/>
<polygon points="483.6,435.02 487.1,432.86 490.1,434.08 486.6,436.23" fill="#fff" stroke-width="2.2"/>
<polygon points="390.6,455.49 402.6,448.11 402.6,472.11 390.6,479.49" fill="#fff" stroke-width="2.2"/>
<polygon points="399.6,446.9 387.6,454.28 390.6,455.49 402.6,448.11" fill="#fff" stroke-width="2.2"/>
<polygon points="387.6,454.28 387.6,478.28 390.6,479.49 390.6,455.49" fill="#fff" stroke-width="2.2"/>
<polygon points="463.6,447.83 445.6,440.54 445.6,444.54 463.6,451.83" fill="#fff" stroke-width="2.2"/>
<polygon points="448.6,438.69 466.6,445.98 463.6,447.83 445.6,440.54" fill="#fff" stroke-width="2.2"/>
<polygon points="466.6,445.98 466.6,449.98 463.6,451.83 463.6,447.83" fill="#fff" stroke-width="2.2"/>
<polygon points="475.6,452.69 463.6,447.83 463.6,471.83 475.6,476.69" fill="#fff" stroke-width="2.2"/>
<polygon points="466.6,445.98 478.6,450.84 475.6,452.69 463.6,447.83" fill="#fff" stroke-width="2.2"/>
<polygon points="478.6,450.84 478.6,474.84 475.6,476.69 475.6,452.69" fill="#fff" stroke-width="2.2"/>
<polygon points="431.5,467.94 465.5,447.03 463.8,446.34 429.8,467.25" fill="#fff" stroke-width="2.0"/>
<polygon points="465.5,466.03 431.5,486.94 431.5,467.94 465.5,447.03" fill="#fff" stroke-width="2.0"/>
<polygon points="431.5,486.94 429.8,486.25 429.8,467.25 431.5,467.94" fill="#fff" stroke-width="2.0"/>
<polygon points="431.5,467.94 433.2,466.89 403.8,454.98 402.1,456.03" fill="#fff" stroke-width="2.0"/>
<polygon points="433.2,485.89 431.5,486.94 431.5,467.94 433.2,466.89" fill="#fff" stroke-width="2.0"/>
<polygon points="431.5,486.94 402.1,475.03 402.1,456.03 431.5,467.94" fill="#fff" stroke-width="2.0"/>
<polygon points="422.6,468.45 434.6,461.07 434.6,485.07 422.6,492.45" fill="#fff" stroke-width="2.2"/>
<polygon points="431.6,459.86 419.6,467.24 422.6,468.45 434.6,461.07" fill="#fff" stroke-width="2.2"/>
<polygon points="419.6,467.24 419.6,491.24 422.6,492.45 422.6,468.45" fill="#fff" stroke-width="2.2"/>
<ellipse cx="429.3" cy="444" rx="20" ry="9.6" fill="#fff" stroke-width="2.6"/>
<line x1="596" y1="498.66" x2="665.6" y2="455.86" stroke-width="2.4"/>
<line x1="665.6" y1="455.86" x2="665.6" y2="463.96" stroke-width="2.4"/>
<polygon points="773.21,384.56 772.49,384.22 771.8,383.8 771.16,383.29 770.55,382.7 769.98,382.04 769.47,381.31 769,380.51 768.59,379.65 768.23,378.74 767.94,377.77 767.7,376.76 767.52,375.7 767.41,374.62 767.36,373.51 767.37,372.39 767.45,371.25 767.59,370.1 767.8,368.96 768.06,367.83 768.38,366.72 768.77,365.62 769.2,364.56 769.69,363.54 770.23,362.56 770.81,361.62 771.44,360.74 772.11,359.93 772.81,359.17 773.54,358.49 774.29,357.88 775.07,357.35 775.86,356.9 776.66,356.53 777.48,356.25 778.29,356.06 779.1,355.96 779.9,355.94 780.68,356.02 781.45,356.18 782.19,356.44" fill="#fff" stroke="none"/>
<polygon points="773.21,384.56 790.01,391.36 798.99,363.24 782.19,356.44" fill="#fff" stroke="none"/>
<polyline points="773.21,384.56 772.49,384.22 771.8,383.8 771.16,383.29 770.55,382.7 769.98,382.04 769.47,381.31 769,380.51 768.59,379.65 768.23,378.74 767.94,377.77 767.7,376.76 767.52,375.7 767.41,374.62 767.36,373.51 767.37,372.39 767.45,371.25 767.59,370.1 767.8,368.96 768.06,367.83 768.38,366.72 768.77,365.62 769.2,364.56 769.69,363.54 770.23,362.56 770.81,361.62 771.44,360.74 772.11,359.93 772.81,359.17 773.54,358.49 774.29,357.88 775.07,357.35 775.86,356.9 776.66,356.53 777.48,356.25 778.29,356.06 779.1,355.96 779.9,355.94 780.68,356.02 781.45,356.18 782.19,356.44" stroke-width="2.5" fill="none" />
<line x1="773.21" y1="384.56" x2="790.01" y2="391.36" stroke-width="2.4"/>
<line x1="782.19" y1="356.44" x2="798.99" y2="363.24" stroke-width="2.4"/>
<polyline points="777.81,386.46 777.09,386.12 776.4,385.7 775.76,385.19 775.15,384.6 774.58,383.94 774.07,383.21 773.6,382.41 773.19,381.55 772.83,380.64 772.54,379.67 772.3,378.66 772.12,377.6 772.01,376.52 771.96,375.41 771.97,374.29 772.05,373.15 772.19,372 772.4,370.86 772.66,369.73 772.98,368.62 773.37,367.52 773.8,366.46 774.29,365.44 774.83,364.46 775.41,363.52 776.04,362.64 776.71,361.83 777.41,361.07 778.14,360.39 778.89,359.78 779.67,359.25 780.46,358.8 781.26,358.43 782.08,358.15 782.89,357.96 783.7,357.86 784.5,357.84 785.28,357.92 786.05,358.08 786.79,358.34" stroke-width="1.5" fill="none" />
<ellipse cx="794.5" cy="377.3" rx="10" ry="14.8" transform="rotate(14 794.5 377.3)" stroke-width="1.7" fill="#fff" />
<ellipse cx="794.8" cy="377.6" rx="7.6" ry="12" transform="rotate(14 794.8 377.6)" stroke-width="3.0" fill="#fff" />
<polygon points="743.11,403.66 742.39,403.32 741.7,402.9 741.06,402.39 740.45,401.8 739.88,401.14 739.37,400.41 738.9,399.61 738.49,398.75 738.13,397.84 737.84,396.87 737.6,395.86 737.42,394.8 737.31,393.72 737.26,392.61 737.27,391.49 737.35,390.35 737.49,389.2 737.7,388.06 737.96,386.93 738.28,385.82 738.67,384.72 739.1,383.66 739.59,382.64 740.13,381.66 740.71,380.72 741.34,379.84 742.01,379.03 742.71,378.27 743.44,377.59 744.19,376.98 744.97,376.45 745.76,376 746.56,375.63 747.38,375.35 748.19,375.16 749,375.06 749.8,375.04 750.58,375.12 751.35,375.28 752.09,375.54" fill="#fff" stroke="none"/>
<polygon points="743.11,403.66 759.91,410.46 768.89,382.34 752.09,375.54" fill="#fff" stroke="none"/>
<polyline points="743.11,403.66 742.39,403.32 741.7,402.9 741.06,402.39 740.45,401.8 739.88,401.14 739.37,400.41 738.9,399.61 738.49,398.75 738.13,397.84 737.84,396.87 737.6,395.86 737.42,394.8 737.31,393.72 737.26,392.61 737.27,391.49 737.35,390.35 737.49,389.2 737.7,388.06 737.96,386.93 738.28,385.82 738.67,384.72 739.1,383.66 739.59,382.64 740.13,381.66 740.71,380.72 741.34,379.84 742.01,379.03 742.71,378.27 743.44,377.59 744.19,376.98 744.97,376.45 745.76,376 746.56,375.63 747.38,375.35 748.19,375.16 749,375.06 749.8,375.04 750.58,375.12 751.35,375.28 752.09,375.54" stroke-width="2.5" fill="none" />
<line x1="743.11" y1="403.66" x2="759.91" y2="410.46" stroke-width="2.4"/>
<line x1="752.09" y1="375.54" x2="768.89" y2="382.34" stroke-width="2.4"/>
<polyline points="747.71,405.56 746.99,405.22 746.3,404.8 745.66,404.29 745.05,403.7 744.48,403.04 743.97,402.31 743.5,401.51 743.09,400.65 742.73,399.74 742.44,398.77 742.2,397.76 742.02,396.7 741.91,395.62 741.86,394.51 741.87,393.39 741.95,392.25 742.09,391.1 742.3,389.96 742.56,388.83 742.88,387.72 743.27,386.62 743.7,385.56 744.19,384.54 744.73,383.56 745.31,382.62 745.94,381.74 746.61,380.93 747.31,380.17 748.04,379.49 748.79,378.88 749.57,378.35 750.36,377.9 751.16,377.53 751.98,377.25 752.79,377.06 753.6,376.96 754.4,376.94 755.18,377.02 755.95,377.18 756.69,377.44" stroke-width="1.5" fill="none" />
<ellipse cx="764.4" cy="396.4" rx="10" ry="14.8" transform="rotate(14 764.4 396.4)" stroke-width="1.7" fill="#fff" />
<ellipse cx="764.7" cy="396.7" rx="7.6" ry="12" transform="rotate(14 764.7 396.7)" stroke-width="3.0" fill="#fff" />
<polygon points="712.71,423.06 711.99,422.72 711.3,422.3 710.66,421.79 710.05,421.2 709.48,420.54 708.97,419.81 708.5,419.01 708.09,418.15 707.73,417.24 707.44,416.27 707.2,415.26 707.02,414.2 706.91,413.12 706.86,412.01 706.87,410.89 706.95,409.75 707.09,408.6 707.3,407.46 707.56,406.33 707.88,405.22 708.27,404.12 708.7,403.06 709.19,402.04 709.73,401.06 710.31,400.12 710.94,399.24 711.61,398.43 712.31,397.67 713.04,396.99 713.79,396.38 714.57,395.85 715.36,395.4 716.16,395.03 716.98,394.75 717.79,394.56 718.6,394.46 719.4,394.44 720.18,394.52 720.95,394.68 721.69,394.94" fill="#fff" stroke="none"/>
<polygon points="712.71,423.06 729.51,429.86 738.49,401.74 721.69,394.94" fill="#fff" stroke="none"/>
<polyline points="712.71,423.06 711.99,422.72 711.3,422.3 710.66,421.79 710.05,421.2 709.48,420.54 708.97,419.81 708.5,419.01 708.09,418.15 707.73,417.24 707.44,416.27 707.2,415.26 707.02,414.2 706.91,413.12 706.86,412.01 706.87,410.89 706.95,409.75 707.09,408.6 707.3,407.46 707.56,406.33 707.88,405.22 708.27,404.12 708.7,403.06 709.19,402.04 709.73,401.06 710.31,400.12 710.94,399.24 711.61,398.43 712.31,397.67 713.04,396.99 713.79,396.38 714.57,395.85 715.36,395.4 716.16,395.03 716.98,394.75 717.79,394.56 718.6,394.46 719.4,394.44 720.18,394.52 720.95,394.68 721.69,394.94" stroke-width="2.5" fill="none" />
<line x1="712.71" y1="423.06" x2="729.51" y2="429.86" stroke-width="2.4"/>
<line x1="721.69" y1="394.94" x2="738.49" y2="401.74" stroke-width="2.4"/>
<polyline points="717.31,424.96 716.59,424.62 715.9,424.2 715.26,423.69 714.65,423.1 714.08,422.44 713.57,421.71 713.1,420.91 712.69,420.05 712.33,419.14 712.04,418.17 711.8,417.16 711.62,416.1 711.51,415.02 711.46,413.91 711.47,412.79 711.55,411.65 711.69,410.5 711.9,409.36 712.16,408.23 712.48,407.12 712.87,406.02 713.3,404.96 713.79,403.94 714.33,402.96 714.91,402.02 715.54,401.14 716.21,400.33 716.91,399.57 717.64,398.89 718.39,398.28 719.17,397.75 719.96,397.3 720.76,396.93 721.58,396.65 722.39,396.46 723.2,396.36 724,396.34 724.78,396.42 725.55,396.58 726.29,396.84" stroke-width="1.5" fill="none" />
<ellipse cx="734" cy="415.8" rx="10" ry="14.8" transform="rotate(14 734 415.8)" stroke-width="1.7" fill="#fff" />
<ellipse cx="734.3" cy="416.1" rx="7.6" ry="12" transform="rotate(14 734.3 416.1)" stroke-width="3.0" fill="#fff" />
<polygon points="682.31,441.26 681.59,440.92 680.9,440.5 680.26,439.99 679.65,439.4 679.08,438.74 678.57,438.01 678.1,437.21 677.69,436.35 677.33,435.44 677.04,434.47 676.8,433.46 676.62,432.4 676.51,431.32 676.46,430.21 676.47,429.09 676.55,427.95 676.69,426.8 676.9,425.66 677.16,424.53 677.48,423.42 677.87,422.32 678.3,421.26 678.79,420.24 679.33,419.26 679.91,418.32 680.54,417.44 681.21,416.63 681.91,415.87 682.64,415.19 683.39,414.58 684.17,414.05 684.96,413.6 685.76,413.23 686.58,412.95 687.39,412.76 688.2,412.66 689,412.64 689.78,412.72 690.55,412.88 691.29,413.14" fill="#fff" stroke="none"/>
<polygon points="682.31,441.26 699.11,448.06 708.09,419.94 691.29,413.14" fill="#fff" stroke="none"/>
<polyline points="682.31,441.26 681.59,440.92 680.9,440.5 680.26,439.99 679.65,439.4 679.08,438.74 678.57,438.01 678.1,437.21 677.69,436.35 677.33,435.44 677.04,434.47 676.8,433.46 676.62,432.4 676.51,431.32 676.46,430.21 676.47,429.09 676.55,427.95 676.69,426.8 676.9,425.66 677.16,424.53 677.48,423.42 677.87,422.32 678.3,421.26 678.79,420.24 679.33,419.26 679.91,418.32 680.54,417.44 681.21,416.63 681.91,415.87 682.64,415.19 683.39,414.58 684.17,414.05 684.96,413.6 685.76,413.23 686.58,412.95 687.39,412.76 688.2,412.66 689,412.64 689.78,412.72 690.55,412.88 691.29,413.14" stroke-width="2.5" fill="none" />
<line x1="682.31" y1="441.26" x2="699.11" y2="448.06" stroke-width="2.4"/>
<line x1="691.29" y1="413.14" x2="708.09" y2="419.94" stroke-width="2.4"/>
<polyline points="686.91,443.16 686.19,442.82 685.5,442.4 684.86,441.89 684.25,441.3 683.68,440.64 683.17,439.91 682.7,439.11 682.29,438.25 681.93,437.34 681.64,436.37 681.4,435.36 681.22,434.3 681.11,433.22 681.06,432.11 681.07,430.99 681.15,429.85 681.29,428.7 681.5,427.56 681.76,426.43 682.08,425.32 682.47,424.22 682.9,423.16 683.39,422.14 683.93,421.16 684.51,420.22 685.14,419.34 685.81,418.53 686.51,417.77 687.24,417.09 687.99,416.48 688.77,415.95 689.56,415.5 690.36,415.13 691.18,414.85 691.99,414.66 692.8,414.56 693.6,414.54 694.38,414.62 695.15,414.78 695.89,415.04" stroke-width="1.5" fill="none" />
<ellipse cx="703.6" cy="434" rx="10" ry="14.8" transform="rotate(14 703.6 434)" stroke-width="1.7" fill="#fff" />
<ellipse cx="703.9" cy="434.3" rx="7.6" ry="12" transform="rotate(14 703.9 434.3)" stroke-width="3.0" fill="#fff" />
<polygon points="570.01,509.66 569.29,509.32 568.6,508.9 567.96,508.39 567.35,507.8 566.78,507.14 566.27,506.41 565.8,505.61 565.39,504.75 565.03,503.84 564.74,502.87 564.5,501.86 564.32,500.8 564.21,499.72 564.16,498.61 564.17,497.49 564.25,496.35 564.39,495.2 564.6,494.06 564.86,492.93 565.18,491.82 565.57,490.72 566,489.66 566.49,488.64 567.03,487.66 567.61,486.72 568.24,485.84 568.91,485.03 569.61,484.27 570.34,483.59 571.09,482.98 571.87,482.45 572.66,482 573.46,481.63 574.28,481.35 575.09,481.16 575.9,481.06 576.7,481.04 577.48,481.12 578.25,481.28 578.99,481.54" fill="#fff" stroke="none"/>
<polygon points="570.01,509.66 586.81,516.46 595.79,488.34 578.99,481.54" fill="#fff" stroke="none"/>
<polyline points="570.01,509.66 569.29,509.32 568.6,508.9 567.96,508.39 567.35,507.8 566.78,507.14 566.27,506.41 565.8,505.61 565.39,504.75 565.03,503.84 564.74,502.87 564.5,501.86 564.32,500.8 564.21,499.72 564.16,498.61 564.17,497.49 564.25,496.35 564.39,495.2 564.6,494.06 564.86,492.93 565.18,491.82 565.57,490.72 566,489.66 566.49,488.64 567.03,487.66 567.61,486.72 568.24,485.84 568.91,485.03 569.61,484.27 570.34,483.59 571.09,482.98 571.87,482.45 572.66,482 573.46,481.63 574.28,481.35 575.09,481.16 575.9,481.06 576.7,481.04 577.48,481.12 578.25,481.28 578.99,481.54" stroke-width="2.5" fill="none" />
<line x1="570.01" y1="509.66" x2="586.81" y2="516.46" stroke-width="2.4"/>
<line x1="578.99" y1="481.54" x2="595.79" y2="488.34" stroke-width="2.4"/>
<polyline points="574.61,511.56 573.89,511.22 573.2,510.8 572.56,510.29 571.95,509.7 571.38,509.04 570.87,508.31 570.4,507.51 569.99,506.65 569.63,505.74 569.34,504.77 569.1,503.76 568.92,502.7 568.81,501.62 568.76,500.51 568.77,499.39 568.85,498.25 568.99,497.1 569.2,495.96 569.46,494.83 569.78,493.72 570.17,492.62 570.6,491.56 571.09,490.54 571.63,489.56 572.21,488.62 572.84,487.74 573.51,486.93 574.21,486.17 574.94,485.49 575.69,484.88 576.47,484.35 577.26,483.9 578.06,483.53 578.88,483.25 579.69,483.06 580.5,482.96 581.3,482.94 582.08,483.02 582.85,483.18 583.59,483.44" stroke-width="1.5" fill="none" />
<ellipse cx="591.3" cy="502.4" rx="10" ry="14.8" transform="rotate(14 591.3 502.4)" stroke-width="1.7" fill="#fff" />
<ellipse cx="591.6" cy="502.7" rx="7.6" ry="12" transform="rotate(14 591.6 502.7)" stroke-width="3.0" fill="#fff" />
<polygon points="539.71,528.86 538.99,528.52 538.3,528.1 537.66,527.59 537.05,527 536.48,526.34 535.97,525.61 535.5,524.81 535.09,523.95 534.73,523.04 534.44,522.07 534.2,521.06 534.02,520 533.91,518.92 533.86,517.81 533.87,516.69 533.95,515.55 534.09,514.4 534.3,513.26 534.56,512.13 534.88,511.02 535.27,509.92 535.7,508.86 536.19,507.84 536.73,506.86 537.31,505.92 537.94,505.04 538.61,504.23 539.31,503.47 540.04,502.79 540.79,502.18 541.57,501.65 542.36,501.2 543.16,500.83 543.98,500.55 544.79,500.36 545.6,500.26 546.4,500.24 547.18,500.32 547.95,500.48 548.69,500.74" fill="#fff" stroke="none"/>
<polygon points="539.71,528.86 556.51,535.66 565.49,507.54 548.69,500.74" fill="#fff" stroke="none"/>
<polyline points="539.71,528.86 538.99,528.52 538.3,528.1 537.66,527.59 537.05,527 536.48,526.34 535.97,525.61 535.5,524.81 535.09,523.95 534.73,523.04 534.44,522.07 534.2,521.06 534.02,520 533.91,518.92 533.86,517.81 533.87,516.69 533.95,515.55 534.09,514.4 534.3,513.26 534.56,512.13 534.88,511.02 535.27,509.92 535.7,508.86 536.19,507.84 536.73,506.86 537.31,505.92 537.94,505.04 538.61,504.23 539.31,503.47 540.04,502.79 540.79,502.18 541.57,501.65 542.36,501.2 543.16,500.83 543.98,500.55 544.79,500.36 545.6,500.26 546.4,500.24 547.18,500.32 547.95,500.48 548.69,500.74" stroke-width="2.5" fill="none" />
<line x1="539.71" y1="528.86" x2="556.51" y2="535.66" stroke-width="2.4"/>
<line x1="548.69" y1="500.74" x2="565.49" y2="507.54" stroke-width="2.4"/>
<polyline points="544.31,530.76 543.59,530.42 542.9,530 542.26,529.49 541.65,528.9 541.08,528.24 540.57,527.51 540.1,526.71 539.69,525.85 539.33,524.94 539.04,523.97 538.8,522.96 538.62,521.9 538.51,520.82 538.46,519.71 538.47,518.59 538.55,517.45 538.69,516.3 538.9,515.16 539.16,514.03 539.48,512.92 539.87,511.82 540.3,510.76 540.79,509.74 541.33,508.76 541.91,507.82 542.54,506.94 543.21,506.13 543.91,505.37 544.64,504.69 545.39,504.08 546.17,503.55 546.96,503.1 547.76,502.73 548.58,502.45 549.39,502.26 550.2,502.16 551,502.14 551.78,502.22 552.55,502.38 553.29,502.64" stroke-width="1.5" fill="none" />
<ellipse cx="561" cy="521.6" rx="10" ry="14.8" transform="rotate(14 561 521.6)" stroke-width="1.7" fill="#fff" />
<ellipse cx="561.3" cy="521.9" rx="7.6" ry="12" transform="rotate(14 561.3 521.9)" stroke-width="3.0" fill="#fff" />
<polygon points="509.31,548.06 508.59,547.72 507.9,547.3 507.26,546.79 506.65,546.2 506.08,545.54 505.57,544.81 505.1,544.01 504.69,543.15 504.33,542.24 504.04,541.27 503.8,540.26 503.62,539.2 503.51,538.12 503.46,537.01 503.47,535.89 503.55,534.75 503.69,533.6 503.9,532.46 504.16,531.33 504.48,530.22 504.87,529.12 505.3,528.06 505.79,527.04 506.33,526.06 506.91,525.12 507.54,524.24 508.21,523.43 508.91,522.67 509.64,521.99 510.39,521.38 511.17,520.85 511.96,520.4 512.76,520.03 513.58,519.75 514.39,519.56 515.2,519.46 516,519.44 516.78,519.52 517.55,519.68 518.29,519.94" fill="#fff" stroke="none"/>
<polygon points="509.31,548.06 526.11,554.86 535.09,526.74 518.29,519.94" fill="#fff" stroke="none"/>
<polyline points="509.31,548.06 508.59,547.72 507.9,547.3 507.26,546.79 506.65,546.2 506.08,545.54 505.57,544.81 505.1,544.01 504.69,543.15 504.33,542.24 504.04,541.27 503.8,540.26 503.62,539.2 503.51,538.12 503.46,537.01 503.47,535.89 503.55,534.75 503.69,533.6 503.9,532.46 504.16,531.33 504.48,530.22 504.87,529.12 505.3,528.06 505.79,527.04 506.33,526.06 506.91,525.12 507.54,524.24 508.21,523.43 508.91,522.67 509.64,521.99 510.39,521.38 511.17,520.85 511.96,520.4 512.76,520.03 513.58,519.75 514.39,519.56 515.2,519.46 516,519.44 516.78,519.52 517.55,519.68 518.29,519.94" stroke-width="2.5" fill="none" />
<line x1="509.31" y1="548.06" x2="526.11" y2="554.86" stroke-width="2.4"/>
<line x1="518.29" y1="519.94" x2="535.09" y2="526.74" stroke-width="2.4"/>
<polyline points="513.91,549.96 513.19,549.62 512.5,549.2 511.86,548.69 511.25,548.1 510.68,547.44 510.17,546.71 509.7,545.91 509.29,545.05 508.93,544.14 508.64,543.17 508.4,542.16 508.22,541.1 508.11,540.02 508.06,538.91 508.07,537.79 508.15,536.65 508.29,535.5 508.5,534.36 508.76,533.23 509.08,532.12 509.47,531.02 509.9,529.96 510.39,528.94 510.93,527.96 511.51,527.02 512.14,526.14 512.81,525.33 513.51,524.57 514.24,523.89 514.99,523.28 515.77,522.75 516.56,522.3 517.36,521.93 518.18,521.65 518.99,521.46 519.8,521.36 520.6,521.34 521.38,521.42 522.15,521.58 522.89,521.84" stroke-width="1.5" fill="none" />
<ellipse cx="530.6" cy="540.8" rx="10" ry="14.8" transform="rotate(14 530.6 540.8)" stroke-width="1.7" fill="#fff" />
<ellipse cx="530.9" cy="541.1" rx="7.6" ry="12" transform="rotate(14 530.9 541.1)" stroke-width="3.0" fill="#fff" />
<polygon points="478.71,566.86 477.99,566.52 477.3,566.1 476.66,565.59 476.05,565 475.48,564.34 474.97,563.61 474.5,562.81 474.09,561.95 473.73,561.04 473.44,560.07 473.2,559.06 473.02,558 472.91,556.92 472.86,555.81 472.87,554.69 472.95,553.55 473.09,552.4 473.3,551.26 473.56,550.13 473.88,549.02 474.27,547.92 474.7,546.86 475.19,545.84 475.73,544.86 476.31,543.92 476.94,543.04 477.61,542.23 478.31,541.47 479.04,540.79 479.79,540.18 480.57,539.65 481.36,539.2 482.16,538.83 482.98,538.55 483.79,538.36 484.6,538.26 485.4,538.24 486.18,538.32 486.95,538.48 487.69,538.74" fill="#fff" stroke="none"/>
<polygon points="478.71,566.86 495.51,573.66 504.49,545.54 487.69,538.74" fill="#fff" stroke="none"/>
<polyline points="478.71,566.86 477.99,566.52 477.3,566.1 476.66,565.59 476.05,565 475.48,564.34 474.97,563.61 474.5,562.81 474.09,561.95 473.73,561.04 473.44,560.07 473.2,559.06 473.02,558 472.91,556.92 472.86,555.81 472.87,554.69 472.95,553.55 473.09,552.4 473.3,551.26 473.56,550.13 473.88,549.02 474.27,547.92 474.7,546.86 475.19,545.84 475.73,544.86 476.31,543.92 476.94,543.04 477.61,542.23 478.31,541.47 479.04,540.79 479.79,540.18 480.57,539.65 481.36,539.2 482.16,538.83 482.98,538.55 483.79,538.36 484.6,538.26 485.4,538.24 486.18,538.32 486.95,538.48 487.69,538.74" stroke-width="2.5" fill="none" />
<line x1="478.71" y1="566.86" x2="495.51" y2="573.66" stroke-width="2.4"/>
<line x1="487.69" y1="538.74" x2="504.49" y2="545.54" stroke-width="2.4"/>
<polyline points="483.31,568.76 482.59,568.42 481.9,568 481.26,567.49 480.65,566.9 480.08,566.24 479.57,565.51 479.1,564.71 478.69,563.85 478.33,562.94 478.04,561.97 477.8,560.96 477.62,559.9 477.51,558.82 477.46,557.71 477.47,556.59 477.55,555.45 477.69,554.3 477.9,553.16 478.16,552.03 478.48,550.92 478.87,549.82 479.3,548.76 479.79,547.74 480.33,546.76 480.91,545.82 481.54,544.94 482.21,544.13 482.91,543.37 483.64,542.69 484.39,542.08 485.17,541.55 485.96,541.1 486.76,540.73 487.58,540.45 488.39,540.26 489.2,540.16 490,540.14 490.78,540.22 491.55,540.38 492.29,540.64" stroke-width="1.5" fill="none" />
<ellipse cx="500" cy="559.6" rx="10" ry="14.8" transform="rotate(14 500 559.6)" stroke-width="1.7" fill="#fff" />
<ellipse cx="500.3" cy="559.9" rx="7.6" ry="12" transform="rotate(14 500.3 559.9)" stroke-width="3.0" fill="#fff" />
<polygon points="489.4,626.8 811,429 811,445 489.4,642.8" stroke-width="2.4" fill="#fff" />
<line x1="511.2" y1="611.5" x2="784.4" y2="443.5" stroke-width="3.6"/>
<polygon points="470.2,619.4 496.2,604 511.2,611.2 489.4,626.8" stroke-width="2.4" fill="#fff" />
<polygon points="470.2,619.4 489.4,626.8 489.4,642.8 470.2,636" stroke-width="2.4" fill="#fff" />
<polygon points="767.6,436 793.2,420 811.2,428.4 784.4,442.8" stroke-width="2.4" fill="#fff" />
<line x1="767.6" y1="436" x2="767.6" y2="450" stroke-width="2.4"/>
<line x1="160" y1="275.5" x2="160" y2="401" stroke-width="1.25"/>
<line x1="515.3" y1="66" x2="515.3" y2="184" stroke-width="1.25"/>
<line x1="160.2" y1="299.3" x2="302.5" y2="213.6" stroke-width="1.25"/>
<line x1="386.2" y1="161.3" x2="515.2" y2="83.6" stroke-width="1.25"/>
<polygon points="160.2,299.3 179.79,297.25 179.79,277.25" fill="#000" stroke="none"/>
<polygon points="515.2,83.6 495.61,105.65 495.61,85.65" fill="#000" stroke="none"/>
<line x1="522" y1="187" x2="611" y2="132.5" stroke-width="1.25"/>
<line x1="820" y1="308.5" x2="909.5" y2="253.5" stroke-width="1.25"/>
<line x1="594.5" y1="145.5" x2="671" y2="176.5" stroke-width="1.25"/>
<line x1="760" y1="212.3" x2="888" y2="264.3" stroke-width="1.25"/>
<polygon points="594.5,145.5 624.34,148.9 607.3,159.37" fill="#000" stroke="none"/>
<polygon points="888,264.3 875.2,250.43 858.16,260.9" fill="#000" stroke="none"/>
<line x1="890.5" y1="268.5" x2="890.5" y2="444" stroke-width="1.25"/>
<line x1="890.5" y1="506" x2="890.5" y2="710.5" stroke-width="1.25"/>
<polygon points="890.5,268.5 899.02,286.26 881.98,296.74" fill="#000" stroke="none"/>
<polygon points="890.5,710.5 899.02,682.26 881.98,692.74" fill="#000" stroke="none"/>
<line x1="786" y1="777" x2="910" y2="700.5" stroke-width="1.25"/>
<line x1="104.2" y1="302.5" x2="104.2" y2="527" stroke-width="1.25"/>
<line x1="104.2" y1="587" x2="104.2" y2="845.5" stroke-width="1.25"/>
<polygon points="104.2,302.5 113.47,329.25 94.93,321.75" fill="#000" stroke="none"/>
<polygon points="104.2,845.5 113.47,826.25 94.93,818.75" fill="#000" stroke="none"/>
<line x1="82" y1="293.2" x2="258" y2="364.3" stroke-width="1.25"/>
<line x1="82" y1="838.2" x2="194.5" y2="883.6" stroke-width="1.25"/>
</g>
<text x="13" y="50.8" font-size="48" letter-spacing="-0.45">measurements in mm</text>
<text x="343.9" y="202.6" font-size="50" letter-spacing="-1.3" text-anchor="middle">894</text>
<text x="718.1" y="207.6" font-size="50" letter-spacing="-1.3" text-anchor="middle">600</text>
<text x="889.1" y="491.6" font-size="50" letter-spacing="-1.3" text-anchor="middle">848</text>
<text x="106.6" y="575" font-size="50" letter-spacing="-1.3" text-anchor="middle">892</text>
</svg>
</body></html>
